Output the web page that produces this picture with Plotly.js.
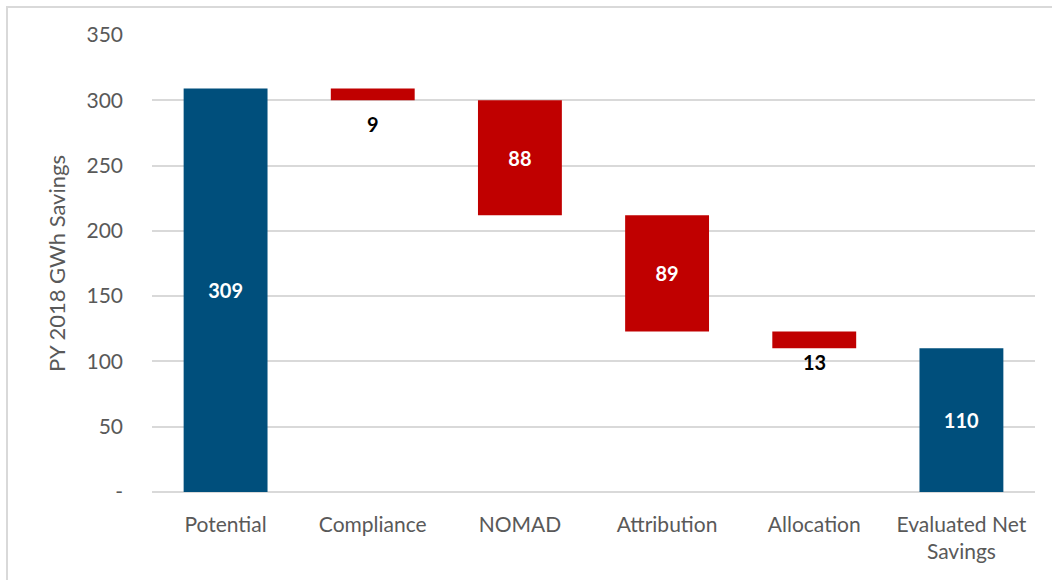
<!DOCTYPE html>
<html>
<head>
<meta charset="utf-8">
<script src="https://cdn.plot.ly/plotly-3.0.1.min.js"></script>
<style>
  html, body { margin: 0; padding: 0; background: #fff; }
  #wrap { position: relative; width: 1052px; height: 580px; }
  #frame { position: absolute; left: 6px; top: 6px; width: 1060px; height: 580px; border-left: 2px solid #d9d9d9; border-top: 2px solid #d9d9d9; box-sizing: border-box; pointer-events: none; z-index: 5; }
  #chart { position: absolute; left: 0; top: 0; width: 1052px; height: 580px; }
</style>
</head>
<body>
<div id="wrap">
  <div id="chart"></div>
  <div id="frame"></div>
</div>
<script>
const categories = ["Potential", "Compliance", "NOMAD", "Attribution", "Allocation", "Evaluated Net<br>Savings"];
const values = [309, -9, -88, -89, -13, 110];
const measures = ["absolute", "relative", "relative", "relative", "relative", "total"];
const labelInside = [true, false, true, true, false, true];
const tickValues = [0, 50, 100, 150, 200, 250, 300, 350];
const tickLabels = ["-", "50", "100", "150", "200", "250", "300", "350"];

const BLUE = "#004F7C";
const RED = "#C00000";
const FONT = "Lato, 'Open Sans', sans-serif";

// running totals to find the lower end of each bar (for the outside labels)
const ends = [];
let run = 0;
values.forEach((v, i) => {
  if (measures[i] === "absolute") run = v;
  else if (measures[i] === "relative") run += v;
  ends.push(run);
});

const trace = {
  type: "waterfall",
  x: categories,
  y: values,
  measure: measures,
  text: values.map((v, i) => labelInside[i] ? String(Math.abs(v)) : ""),
  textinfo: "text",
  textposition: "inside",
  insidetextanchor: "middle",
  insidetextfont: { family: FONT, size: 20, color: "#ffffff", weight: "bold" },
  constraintext: "none",
  increasing: { marker: { color: BLUE } },
  decreasing: { marker: { color: RED } },
  totals: { marker: { color: BLUE } },
  connector: { visible: false },
  hoverinfo: "none"
};

const outsideShift = { 1: -24, 4: -14 };
const annotations = [];
values.forEach((v, i) => {
  if (!labelInside[i]) {
    annotations.push({
      x: categories[i], y: ends[i], xref: "x", yref: "y",
      text: String(Math.abs(v)), showarrow: false,
      yanchor: "middle", yshift: outsideShift[i] || -16,
      font: { family: FONT, size: 20, color: "#000000", weight: "bold" }
    });
  }
});

const layout = {
  width: 1052,
  height: 580,
  margin: { l: 152, r: 17, t: 35, b: 88 },
  paper_bgcolor: "#ffffff",
  plot_bgcolor: "#ffffff",
  showlegend: false,
  waterfallgap: 0.43,
  font: { family: FONT, color: "#595959", size: 20 },
  annotations: annotations,
  xaxis: {
    type: "category",
    showgrid: false,
    zeroline: false,
    showline: false,
    ticks: "",
    ticklabelstandoff: 18,
    tickfont: { family: FONT, size: 21, color: "#595959" },
    automargin: false
  },
  yaxis: {
    range: [0, 350],
    tickvals: tickValues,
    ticktext: tickLabels,
    showgrid: true,
    gridcolor: "#d9d9d9",
    gridwidth: 2,
    zeroline: true,
    zerolinecolor: "#d9d9d9",
    zerolinewidth: 2,
    showline: false,
    ticks: "",
    ticklabelstandoff: 28,
    tickfont: { family: FONT, size: 21, color: "#595959" },
    title: { text: "PY 2018 GWh Savings", standoff: 14, font: { family: FONT, size: 22, color: "#595959" } },
    automargin: false
  }
};

Plotly.newPlot("chart", [trace], layout, { displayModeBar: false, staticPlot: true });
</script>
</body>
</html>
